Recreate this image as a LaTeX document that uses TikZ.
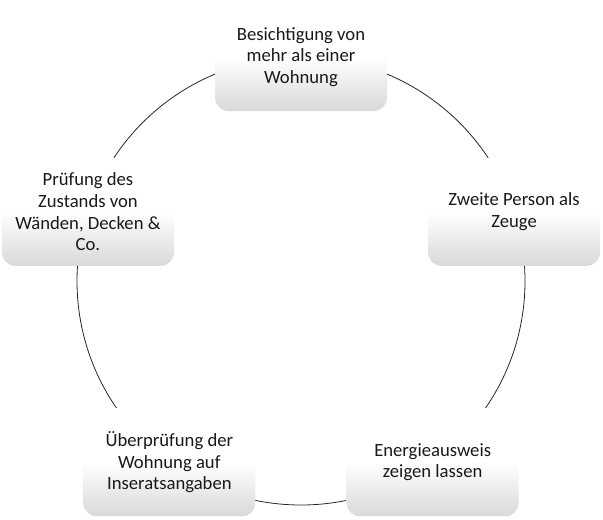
\documentclass[tikz,border=0pt]{standalone}
\usepackage{fontspec}
\setmainfont{Carlito}
\begin{document}
\begin{tikzpicture}[x=0.75pt,y=-0.75pt,
	stepbox/.style={rounded corners=10pt, minimum width=129pt, minimum height=81pt,
		top color=white, bottom color=black!15, middle color=white,
		inner sep=2pt, align=center, text=black!90,
		font=\fontsize{14}{16.3}\selectfont}]
	      \useasboundingbox (0,0) rectangle (603,519);
	      \def\Radius{224}
	      \path (301,281) coordinate (M);
	      % Draw cycle
		  \draw[black!85, line width=0.6pt] (M) circle[radius=\Radius];
		  % Steps
		  \path (M) +(-90:\Radius) node[stepbox] (visit) {Besichtigung von\\mehr als einer\\Wohnung};
		  \path (M) +(-18:\Radius) node[stepbox] (witness) {Zweite Person als\\Zeuge};
		  \path (M) +(54:\Radius) node[stepbox] (energy) {Energieausweis\\zeigen lassen};
		  \path (M) +(126:\Radius) node[stepbox] (check) {Überprüfung der\\Wohnung auf\\Inseratsangaben};
		  \path (M) +(198:\Radius) node[stepbox] (state) {Prüfung des\\Zustands von\\Wänden, Decken \&\\Co.};
	    \end{tikzpicture}
\end{document}
